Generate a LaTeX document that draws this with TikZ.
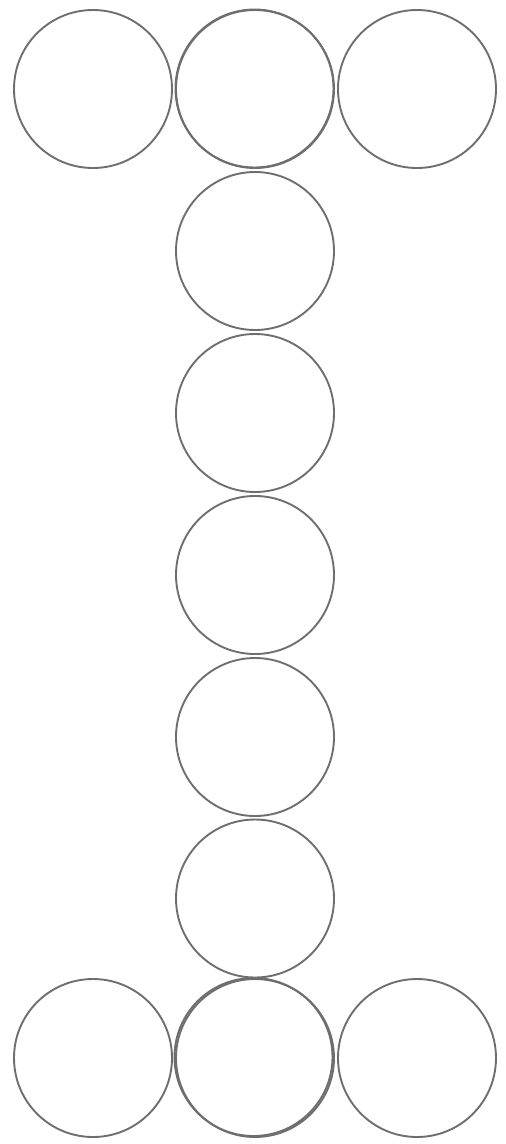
\documentclass[tikz,border=0pt]{standalone}
\definecolor{ringgray}{HTML}{706D6D}
\tikzset{ring/.style={circle,draw=ringgray,line width=1.9pt,minimum size=158pt,inner sep=0pt}}
\begin{document}
\begin{tikzpicture}[x=1pt,y=-1pt]
\useasboundingbox (0,0) rectangle (506,1144);
\node[ring] (t1) at (93,89) {};
\node[ring] (t2) at (255,89) {};
\node[ring] (t2b) at (254.5,88.5) {};
\node[ring] (t3) at (417,89) {};
\node[ring] (m1) at (255,251) {};
\node[ring] (m2) at (255,413) {};
\node[ring] (m3) at (255,575) {};
\node[ring] (m4) at (255,737) {};
\node[ring] (m5) at (255,898.5) {};
\node[ring] (b1) at (93,1058) {};
\node[ring] (b2) at (255,1058) {};
\node[ring] (b2b) at (253.5,1057) {};
\node[ring] (b3) at (417,1058) {};
\end{tikzpicture}
\end{document}
